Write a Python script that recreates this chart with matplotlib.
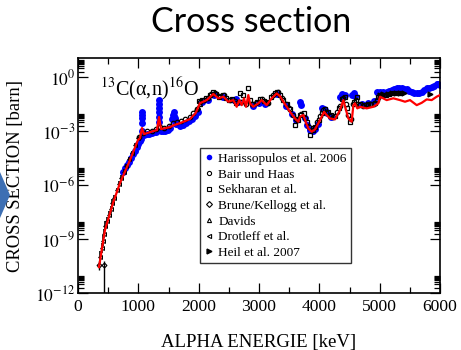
import numpy as np
import matplotlib
matplotlib.use('Agg')
import matplotlib.pyplot as plt
from matplotlib.ticker import FixedLocator, MultipleLocator, FuncFormatter, NullFormatter
from matplotlib.patches import Polygon
from matplotlib.lines import Line2D

plt.rcParams['mathtext.fontset'] = 'stix'
plt.rcParams['font.family'] = ['Liberation Serif', 'DejaVu Serif']

# ---------------- data (energy in keV, log10 of cross section in barn) -------------
model_E = [348, 447, 580, 696, 862, 994, 1028, 1061, 1094, 1193, 1309, 1343, 1376, 1525,
           1591, 1691, 1856, 1950, 2022, 2133, 2243, 2326, 2409, 2492, 2575, 2630, 2674,
           2713, 2752, 2785, 2823, 2851, 2906, 2989, 3044, 3127, 3210, 3293, 3348, 3403,
           3459, 3514, 3597, 3652, 3680, 3735, 3779, 3818, 3873, 3928, 3983, 4039, 4077,
           4122, 4177, 4260, 4343, 4398, 4442, 4481, 4536, 4564, 4591, 4630, 4674, 4785,
           4895, 4978, 5006, 5116, 5226, 5337, 5420, 5503, 5614, 5697, 5780, 5862, 5945, 6000]
model_log = [-10.56, -8.5, -7.0, -5.89, -4.61, -3.5, -3.39, -2.83, -3.17, -3.06, -2.94, -2.22,
             -2.89, -2.78, -2.67, -2.56, -2.33, -2.0, -1.45, -1.28, -0.94, -1.18, -1.09, -1.37,
             -1.28, -1.65, -1.28, -1.56, -1.18, -1.65, -1.0, -1.46, -1.65, -1.46, -1.28, -1.56,
             -1.18, -0.91, -1.06, -1.37, -1.65, -1.93, -2.3, -2.48, -2.2, -2.11, -2.54, -2.85,
             -3.04, -2.91, -2.57, -2.2, -1.93, -2.11, -2.3, -2.35, -1.83, -1.28, -1.83, -2.3,
             -2.48, -1.56, -1.46, -1.74, -1.65, -1.74, -1.65, -1.46, -1.09, -1.28, -1.18, -1.28,
             -1.37, -1.28, -1.56, -1.43, -1.24, -1.28, -1.09, -1.0]

haris_E = [746, 780, 812, 845, 878, 910, 945, 970, 994, 1020, 1044,
           1061, 1061, 1061, 1061, 1061,
           1100, 1144, 1185, 1227, 1260, 1293,
           1343, 1343, 1343, 1343, 1343, 1343,
           1380, 1409, 1450, 1492, 1530,
           1558, 1575, 1591, 1591, 1600, 1608, 1616, 1624,
           1691, 1740, 1790, 1840, 1890, 1940, 1989,
           2050, 2150, 2250, 2400, 2580, 2620, 2650, 2900, 3000, 3100, 3300, 3450, 3550, 3620,
           3680, 3700, 3760, 3800, 3850, 3900, 3930, 3980, 4040, 4070, 4090, 4122, 4200,
           4343, 4380, 4420, 4541, 4570, 4591, 4700, 4800, 4900, 4950, 5000, 5050,
           5061, 5090, 5116, 5160, 5199, 5240, 5282, 5320, 5365, 5400, 5448, 5490, 5531,
           5570, 5614, 5650, 5697, 5740, 5780, 5820, 5862, 5900, 5945, 5975, 6000]
haris_log = [-5.28, -5.08, -4.89, -4.7, -4.5, -4.3, -4.11, -3.9, -3.72, -3.55, -3.44,
             -3.0, -2.56, -2.28, -2.1, -1.94,
             -3.2, -3.17, -3.14, -3.11, -3.08, -3.06,
             -2.5, -2.2, -1.94, -1.72, -1.5, -1.28,
             -3.02, -3.0, -2.97, -2.94, -2.85,
             -2.33, -2.1, -1.94, -2.17, -2.3, -2.39, -2.5, -2.61,
             -2.72, -2.64, -2.56, -2.45, -2.33, -2.15, -1.94,
             -1.4, -1.3, -1.0, -1.12, -1.25, -1.2, -1.4, -1.6, -1.45, -1.5, -0.95, -1.6, -2.05, -2.4,
             -1.4, -1.55, -2.3, -2.67, -2.95, -3.0, -2.9, -2.6, -1.7, -1.75, -1.85, -2.0, -2.2,
             -1.1, -0.95, -1.0, -1.0, -0.9, -1.05, -1.5, -1.45, -1.35, -0.85, -0.85, -0.85,
             -0.91, -0.86, -0.82, -0.77, -0.72, -0.67, -0.63, -0.62, -0.63, -0.65, -0.68, -0.75, -0.82,
             -0.87, -0.91, -0.87, -0.82, -0.72, -0.63, -0.58, -0.54, -0.47, -0.39, -0.4, -0.44]

bair_E = [1010, 1080, 1150, 1220, 1290, 1360, 1430, 1500, 1570, 1640, 1710, 1780, 1850,
          1910, 1970, 2030, 2090, 2150, 2210, 2270,
          2330, 2420, 2520, 2600, 2700, 2780, 2880, 2950, 3050, 3150, 3230, 3320, 3380, 3440,
          3490, 3560, 3620, 3700, 3770, 3830, 3900, 3960, 4010, 4060, 4110, 4170, 4230, 4290,
          4350, 4400, 4440, 4480, 4530, 4560, 4600, 4650, 4720, 4780, 4840, 4900, 4960, 5020]
bair_log = [-3.35, -3.1, -3.0, -2.97, -2.88, -2.75, -2.82, -2.72, -2.58, -2.5, -2.45, -2.35,
            -2.2, -2.0, -1.75, -1.4, -1.25, -1.15, -0.95, -0.9,
            -1.05, -1.0, -1.25, -1.35, -1.4, -1.5, -1.5, -1.45, -1.2, -1.45, -1.0, -0.85, -1.15,
            -1.5, -1.7, -2.1, -2.35, -2.05, -2.3, -2.75, -2.85, -2.5, -2.15, -1.85, -1.95, -2.15,
            -2.2, -1.95, -1.6, -1.15, -1.5, -2.1, -2.35, -1.5, -1.3, -1.55, -1.6, -1.55, -1.5,
            -1.5, -1.3, -1.0]

sekh_E = [2000, 2060, 2120, 2180, 2240, 2290, 2340, 2400, 2450, 2500, 2560, 2620, 2685, 2740,
          2823, 2850, 2900, 2960, 3020, 3080, 3140, 3200, 3260, 3300, 3350, 3400, 3460, 3520,
          3597, 3640, 3680, 3740, 3800, 3845, 3890, 3930, 3990, 4040, 4090, 4140, 4200, 4260,
          4320, 4380, 4420, 4460, 4508, 4580, 4620, 4680, 4740, 4800, 4860, 4920, 4980, 5040,
          5100, 5160, 5220, 5280, 5340]
sekh_log = [-1.35, -1.25, -1.15, -1.0, -0.85, -0.95, -1.1, -1.0, -1.15, -1.3, -1.2, -1.45,
            -0.9, -1.0, -0.62, -1.3, -1.5, -1.4, -1.2, -1.35, -1.4, -1.1, -0.9, -0.85, -1.0,
            -1.25, -1.5, -1.8, -2.67, -2.4, -2.1, -2.0, -2.5, -3.22, -2.95, -2.8, -2.4, -2.0,
            -1.8, -1.95, -2.1, -2.15, -1.7, -1.2, -1.1, -1.7, -2.48, -1.4, -1.1, -1.5, -1.55,
            -1.5, -1.5, -1.45, -1.1, -1.0, -1.0, -0.95, -0.9, -0.9, -0.9]

brune_E = [350, 430]
brune_log = [-10.45, -10.44]
brune_lo = [-10.7, -14.0]
brune_hi = [-10.2, -10.2]

davids_E = [1950, 1990, 2030]
davids_log = [-1.8, -1.65, -1.5]

drot_E = [370, 390, 410, 430, 455, 480, 510, 540, 570, 600, 640, 680, 720, 760, 800, 850,
          900, 950, 990]
drot_log = [-10.0, -9.5, -9.1, -8.7, -8.25, -8.0, -7.65, -7.35, -7.0, -6.7, -6.3, -5.95,
            -5.6, -5.25, -4.95, -4.55, -4.2, -3.75, -3.4]
drot_err = [0.35, 0.3, 0.3, 0.25, 0.25, 0.2, 0.2, 0.2, 0.2, 0.15, 0.15, 0.15, 0.15, 0.12,
            0.12, 0.12, 0.1, 0.1, 0.1]

heil_E = [5000, 5060, 5130, 5200, 5270, 5340, 5400, 5830]
heil_log = [-1.0, -0.95, -0.92, -0.9, -0.88, -0.88, -0.9, -0.92]

x_ticks = [0, 1000, 2000, 3000, 4000, 5000, 6000]
y_major_exp = [-12, -9, -6, -3, 0]

# ---------------- figure -------------
W, H = 461, 350
fig = plt.figure(figsize=(W / 100, H / 100), dpi=100)
fig.patch.set_facecolor('white')

def fx(px):
    return px / W

def fy(py):
    return 1 - py / H

ax = fig.add_axes([fx(78), fy(293), (440 - 78) / W, (293 - 58) / H])
ax.set_yscale('log')
ax.set_xlim(0, 6000)
ax.set_ylim(1e-12, 10 ** 1.06)

p10 = lambda a: 10 ** np.asarray(a, dtype=float)

ax.plot(haris_E, p10(haris_log), 'o', color='#0000ff', ms=5.0, mew=0, zorder=2)
ax.plot(bair_E, p10(bair_log), 'o', mfc='none', mec='black', ms=3.2, mew=0.9, zorder=3)
ax.plot(sekh_E, p10(sekh_log), 's', mfc='none', mec='black', ms=3.2, mew=0.9, zorder=3)
bs = p10(brune_log)
ax.errorbar(brune_E, bs, yerr=[bs - p10(brune_lo), p10(brune_hi) - bs], fmt='D',
            mfc='none', mec='black', ecolor='black', ms=2.5, mew=0.8, elinewidth=1.0,
            capsize=0, zorder=3)
ax.plot(davids_E, p10(davids_log), '^', mfc='none', mec='black', ms=3.0, mew=0.8, zorder=3)
ds = p10(drot_log)
de = np.asarray(drot_err)
ax.errorbar(drot_E, ds, yerr=[ds - ds / 10 ** de, ds * 10 ** de - ds], fmt='<',
            mfc='none', mec='black', ecolor='black', ms=2.8, mew=0.8, elinewidth=1.2,
            capsize=0, zorder=3)
ax.plot(heil_E, p10(heil_log), '>', color='black', ms=3.5, zorder=3)
ax.plot(model_E, p10(model_log), '-', color='#ff0000', lw=1.6, zorder=4)

# ticks
ax.xaxis.set_major_locator(FixedLocator(x_ticks))
ax.xaxis.set_minor_locator(MultipleLocator(500))
ax.yaxis.set_major_locator(FixedLocator([10.0 ** e for e in y_major_exp]))
ax.yaxis.set_minor_locator(FixedLocator([k * 10.0 ** e for e in y_major_exp for k in range(2, 10)]))
ax.yaxis.set_major_formatter(FuncFormatter(lambda v, p: r'$10^{%d}$' % round(np.log10(v))))
ax.yaxis.set_minor_formatter(NullFormatter())
ax.tick_params(which='both', direction='in', top=True, right=True, width=0.9, colors='black')
ax.tick_params(which='major', length=7, pad=3)
ax.tick_params(which='minor', length=4.5)
ax.tick_params(axis='x', labelsize=12.6, pad=4)
ax.tick_params(axis='y', labelsize=12.6, pad=2)
for s in ax.spines.values():
    s.set_linewidth(1.2)

ax.set_xlabel('ALPHA ENERGIE [keV]', fontsize=13.5, labelpad=14)
ax.set_ylabel('CROSS SECTION [barn]', fontsize=13.4, labelpad=8)

ax.text(0.061, 0.843, r'$^{13}$C(α,n)$^{16}$O', transform=ax.transAxes,
        fontsize=14.5, ha='left', va='baseline')

legend_labels = ['Harissopulos et al. 2006', 'Bair und Haas', 'Sekharan et al.',
                 'Brune/Kellogg et al.', 'Davids', 'Drotleff et al.', 'Heil et al. 2007']
legend_markers = ['o', 'o', 's', 'D', '^', '<', '>']
handles = []
for lab, mk in zip(legend_labels, legend_markers):
    if lab.startswith('Harissopulos'):
        h = Line2D([], [], ls='none', marker=mk, color='#0000ff', ms=4.0, mew=0)
    elif lab.startswith('Heil'):
        h = Line2D([], [], ls='none', marker=mk, color='black', ms=3.5)
    else:
        h = Line2D([], [], ls='none', marker=mk, mfc='none', mec='black', ms=3.0, mew=0.8)
    handles.append(h)
leg = ax.legend(handles, legend_labels, loc='upper left',
                bbox_to_anchor=((200 - 78) / 362, (293 - 148) / 235),
                borderaxespad=0, fontsize=9.5, frameon=True, fancybox=False, shadow=False,
                handlelength=0.6, handletextpad=0.45, borderpad=0.35, labelspacing=0.26,
                numpoints=1)
leg.get_frame().set_edgecolor('black')
leg.get_frame().set_linewidth(1.0)

# title
fig.text(fx(251), fy(22), 'Cross section', fontsize=24.5, family=['Lato', 'DejaVu Sans'],
         ha='center', va='center', color='black')

# slide decoration (blue chevron at left)
fig.patches.append(Polygon([(fx(0), fy(172)), (fx(10), fy(195)), (fx(0), fy(218))],
                           closed=True, transform=fig.transFigure, facecolor='#3d6fb3',
                           edgecolor='none'))

fig.savefig('out.png', dpi=100)
